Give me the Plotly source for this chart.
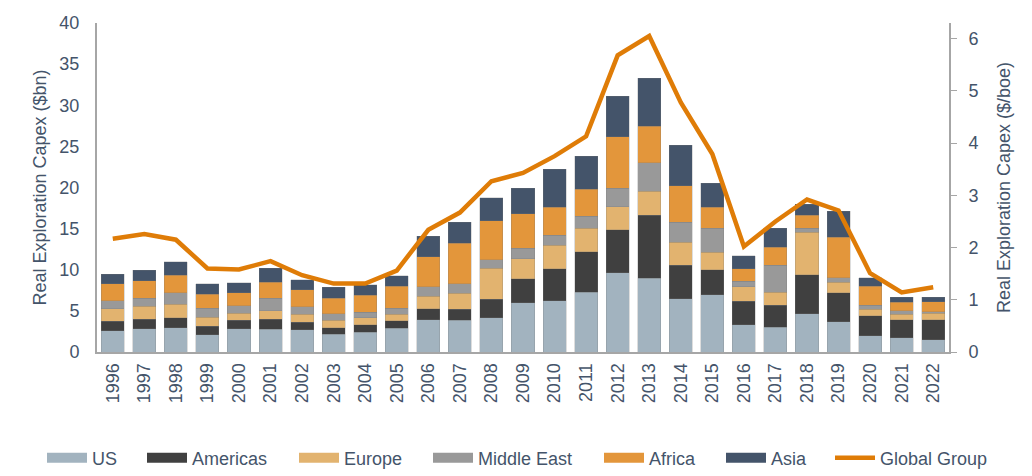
import plotly.graph_objects as go

# years on the category axis
years = [str(y) for y in range(1996, 2023)]

# real exploration capex by region ($bn)
us = [2.57, 2.85, 2.97, 2.12, 2.81, 2.77, 2.69, 2.16, 2.41, 2.89,
      3.94, 3.86, 4.19, 5.97, 6.21, 7.26, 9.61, 8.96, 6.49, 6.94,
      3.30, 3.01, 4.63, 3.66, 1.96, 1.72, 1.52]
americas = [1.17, 1.13, 1.18, 1.02, 1.05, 1.21, 0.93, 0.77, 0.93, 0.93,
            1.30, 1.34, 2.22, 2.91, 3.92, 4.94, 5.26, 7.65, 4.05, 3.07,
            2.87, 2.67, 4.78, 3.56, 2.47, 2.22, 2.42]
europe = [1.54, 1.58, 1.66, 1.09, 0.85, 1.01, 0.97, 0.93, 0.81, 0.77,
          1.54, 1.94, 3.80, 2.43, 2.84, 2.87, 2.79, 2.91, 2.79, 2.13,
          1.78, 1.58, 5.17, 1.25, 0.77, 0.65, 0.77]
middle_east = [0.93, 0.97, 1.41, 1.09, 0.93, 1.54, 0.93, 0.81, 0.68, 0.73,
               1.17, 1.13, 1.02, 1.33, 1.21, 1.41, 2.22, 3.52, 2.43, 2.89,
               0.65, 3.28, 0.49, 0.57, 0.48, 0.45, 0.21]
africa = [2.10, 2.15, 2.10, 1.70, 1.58, 1.94, 2.02, 1.86, 2.07, 2.67,
          3.64, 4.94, 4.73, 4.17, 3.40, 3.28, 6.27, 4.41, 4.45, 2.55,
          1.53, 2.22, 1.54, 4.90, 2.31, 1.01, 1.21]
asia = [1.14, 1.25, 1.66, 1.25, 1.21, 1.74, 1.22, 1.34, 1.29, 1.29,
        2.47, 2.55, 2.79, 3.11, 4.65, 4.01, 4.94, 5.86, 4.93, 2.91,
        1.58, 2.27, 1.37, 3.15, 1.05, 0.60, 0.52]

# unit cost, global group ($/boe)
global_group = [2.17, 2.26, 2.15, 1.60, 1.58, 1.74, 1.47, 1.31, 1.31, 1.56,
                2.34, 2.67, 3.27, 3.43, 3.75, 4.13, 5.68, 6.05, 4.78, 3.79,
                2.02, 2.50, 2.92, 2.71, 1.51, 1.14, 1.24]

text_col = "#44546A"
axis_col = "#A6A6A6"
font_name = "Liberation Sans"

# the page body adds an 8px margin around the figure, so lay out 8px up/left
PAGE = 8
W, H = 1032, 476
L = 97 - PAGE
T = 23 - PAGE
R = W - (949 - PAGE)
B = H - (352 - PAGE)
plot_w = W - L - R
plot_h = H - T - B

# left edge (px, on screen) of each legend swatch, spread like the original row
legend_px = [48, 148, 300, 434, 605, 727, 836]
legend_mid = 458

fig = go.Figure()

bars = [
    ("US", us, "#A2B3BF"),
    ("Americas", americas, "#404040"),
    ("Europe", europe, "#E2B36F"),
    ("Middle East", middle_east, "#999999"),
    ("Africa", africa, "#E3963B"),
    ("Asia", asia, "#44546A"),
]
legends = {}
for i, (name, vals, col) in enumerate(bars):
    lg = "legend" if i == 0 else "legend%d" % (i + 1)
    fig.add_trace(go.Bar(x=years, y=vals, name=name, marker_color=col, showlegend=False,
                         legendgroup=name,
                         marker_line=dict(color="rgba(120,120,120,0.5)", width=0.5)))
    # flat wide swatch for the legend, like the original
    fig.add_trace(go.Scatter(x=[None], y=[None], name=name, mode="lines", legendgroup=name,
                             legend=lg, line=dict(color=col, width=11)))
    legends[lg] = legend_px[i]

fig.add_trace(go.Scatter(x=years, y=global_group, name="Global Group", mode="lines",
                         line=dict(color="#DF7C07", width=4.5), yaxis="y2", legend="legend7"))
legends["legend7"] = legend_px[6]

leg_y = (H - B - (legend_mid - PAGE)) / plot_h
for lg, px in legends.items():
    fig.layout[lg] = dict(orientation="h", x=(px - PAGE - 6 - L) / plot_w, xanchor="left",
                          y=leg_y, yanchor="middle", bgcolor="rgba(0,0,0,0)",
                          font=dict(size=18, color=text_col), itemwidth=40)

fig.update_layout(
    barmode="stack",
    bargap=0.27,
    width=W,
    height=H,
    margin=dict(l=L, r=R, t=T, b=B, autoexpand=False),
    plot_bgcolor="white",
    paper_bgcolor="white",
    font=dict(family=font_name, size=18, color=text_col),
    showlegend=True,
    xaxis=dict(type="category", tickangle=-90, showline=True, linecolor=axis_col,
               linewidth=2, ticks="", showgrid=False, automargin=False,
               ticklabelstandoff=2, tickfont=dict(size=18)),
    yaxis=dict(range=[0, 40], dtick=5, showline=True, linecolor=axis_col, linewidth=2,
               ticks="", showgrid=False, zeroline=False, automargin=False,
               ticklabelstandoff=12,
               title=dict(text="Real Exploration Capex ($bn)", font=dict(size=18), standoff=8)),
    yaxis2=dict(range=[0, 6.3], dtick=1, overlaying="y", side="right", showline=True,
                linecolor=axis_col, linewidth=2, ticks="outside", ticklen=6,
                tickcolor=axis_col, showgrid=False, zeroline=False, automargin=False,
                ticklabelstandoff=8,
                title=dict(text="Real Exploration Capex ($/boe)", font=dict(size=18), standoff=20)),
)

fig.write_html("out.html")
